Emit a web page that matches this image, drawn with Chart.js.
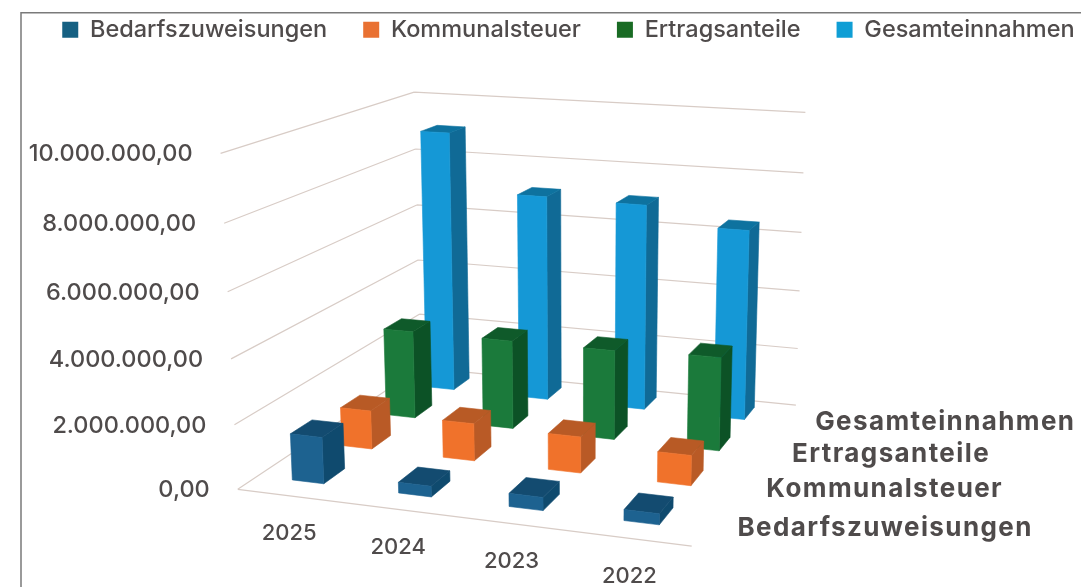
<!DOCTYPE html>
<html><head><meta charset="utf-8">
<script src="https://cdn.jsdelivr.net/npm/chart.js@4/dist/chart.umd.min.js"></script>
<style>html,body{margin:0;padding:0;background:#fff;overflow:hidden;width:1081px;height:587px}canvas{display:block}</style>
</head><body><canvas id="c" width="1400" height="587"></canvas>
<script>
const years = ['2025','2024','2023','2022'];
const seriesNames = ['Bedarfszuweisungen','Kommunalsteuer','Ertragsanteile','Gesamteinnahmen'];
const bedarf = [1450000,330000,400000,330000];
const kommunal = [1250000,1200000,1150000,950000];
const ertrag = [2950000,2950000,2950000,3050000];
const gesamt = [9000000,7050000,7000000,6400000];
const valueTicks = {min:0,max:10000000,step:2000000};
const faceColors = [
 {legend:'#156082',front:'#1d6290',side:'#0f4a6e',top:'#134b70'},
 {legend:'#E97132',front:'#f0722b',side:'#b95a26',top:'#b85a25'},
 {legend:'#196B24',front:'#1b7a3b',side:'#0c5226',top:'#0f5a2a'},
 {legend:'#0F9ED5',front:'#1598d6',side:'#106a96',top:'#0e729f'}
];
const TEXT='#4f4b4b', GRID='#d8ccc6', FONT='Inter';

// camera fitted to the visible corners of the plot box
const corners=[[0,0,0,238,487],[1,0,0,692,548],[0,1,0,420,370],[1,1,0,796,403],
               [0,0,1,220,154],[0,1,1,415,91],[1,1,1,805,113]];
function solveCamera(){
  const A=[],b=[];
  for(const [X,Y,Z,sx0,sy0] of corners){const sx=sx0/1000,sy=sy0/1000;
    A.push([X,Y,Z,1,0,0,0,0,-sx*X,-sx*Y,-sx*Z]);b.push(sx);
    A.push([0,0,0,0,X,Y,Z,1,-sy*X,-sy*Y,-sy*Z]);b.push(sy);}
  const n=11,M=[];
  for(let i=0;i<n;i++){M[i]=[];for(let j=0;j<n;j++){let s=0;for(let k=0;k<A.length;k++)s+=A[k][i]*A[k][j];M[i][j]=s;}
    let s=0;for(let k=0;k<A.length;k++)s+=A[k][i]*b[k];M[i][n]=s;}
  for(let i=0;i<n;i++){let p=i;for(let r=i+1;r<n;r++)if(Math.abs(M[r][i])>Math.abs(M[p][i]))p=r;
    [M[i],M[p]]=[M[p],M[i]];
    for(let r=0;r<n;r++)if(r!==i){const f=M[r][i]/M[i][i];for(let c=i;c<=n;c++)M[r][c]-=f*M[i][c];}}
  return M.map((r,i)=>r[n]/r[i]);
}
const cam=solveCamera();
function project(u,v,w){
  const d=cam[8]*u+cam[9]*v+cam[10]*w+1;
  return [1000*(cam[0]*u+cam[1]*v+cam[2]*w+cam[3])/d,1000*(cam[4]*u+cam[5]*v+cam[6]*w+cam[7])/d];
}
const normX=(s,p)=>(p-s.left)/(s.right-s.left);
const normY=(s,val)=>(s.bottom-s.getPixelForValue(val))/(s.bottom-s.top);

const BAR_U=0.075, BAR_V=0.105, SHIFT_U=-0.005, SHIFT_V=0.02;
function poly(ctx,pts,color){
  ctx.beginPath();pts.forEach((p,i)=>i?ctx.lineTo(p[0],p[1]):ctx.moveTo(p[0],p[1]));ctx.closePath();
  ctx.fillStyle=color;ctx.strokeStyle=color;ctx.lineWidth=0.6;ctx.fill();ctx.stroke();
}
class Bar3D extends Chart.BarController{
  draw(){
    const chart=this.chart,ctx=chart.ctx,xs=chart.scales.x,ys=chart.scales.y;
    const ds=this.getDataset(),n=chart.data.datasets.length,col=faceColors[this.index];
    const vc=(this.index+.5)/n+SHIFT_V;
    ctx.save();
    for(let i=ds.data.length-1;i>=0;i--){
      const uc=normX(xs,xs.getPixelForValue(i))+SHIFT_U,w=normY(ys,ds.data[i]);
      const u0=uc-BAR_U/2,u1=uc+BAR_U/2,v0=vc-BAR_V/2,v1=vc+BAR_V/2;
      poly(ctx,[project(u1,v0,0),project(u1,v1,0),project(u1,v1,w),project(u1,v0,w)],col.side);
      poly(ctx,[project(u0,v0,w),project(u1,v0,w),project(u1,v1,w),project(u0,v1,w)],col.top);
      poly(ctx,[project(u0,v0,0),project(u1,v0,0),project(u1,v0,w),project(u0,v0,w)],col.front);
    }
    ctx.restore();
  }
}
Bar3D.id='bar3d';
Bar3D.defaults=Chart.BarController.defaults;
Bar3D.overrides=Chart.BarController.overrides;
Chart.register(Bar3D);

const frame3d={
  id:'frame3d',
  afterLayout(chart){chart.legend.left=26.25;chart.legend.top=-18;},
  beforeDraw(chart){
    const ctx=chart.ctx;ctx.save();ctx.fillStyle='#fff';ctx.fillRect(0,0,chart.width,chart.height);
    ctx.strokeStyle='#7a7a7a';ctx.lineWidth=1.5;ctx.beginPath();ctx.moveTo(21,chart.height);ctx.lineTo(21,12.7);ctx.lineTo(chart.width,12.7);ctx.stroke();ctx.restore();
  },
  beforeDatasetsDraw(chart){
    const ctx=chart.ctx,ys=chart.scales.y,xs=chart.scales.x;ctx.save();
    ctx.strokeStyle=GRID;ctx.lineWidth=1.2;
    const seg=(a,b)=>{ctx.moveTo(a[0],a[1]);ctx.lineTo(b[0],b[1]);};
    ctx.beginPath();
    ys.ticks.forEach(t=>{const w=normY(ys,t.value);seg(project(0,0,w),project(0,1,w));seg(project(0,1,w),project(1,1,w));});
    seg(project(0,0,0),project(1,0,0));
    ctx.stroke();
    ctx.fillStyle=TEXT;ctx.textBaseline='middle';
    ctx.font='500 23.5px '+FONT;ctx.textAlign='right';
    ys.ticks.forEach(t=>{const p=project(0,0,normY(ys,t.value));ctx.fillText(t.label,p[0]-28,p[1]+1);});
    ctx.font='500 22px '+FONT;ctx.textAlign='center';
    years.forEach((y,i)=>{const p=project(normX(xs,xs.getPixelForValue(i)),0,0);ctx.fillText(y,p[0]-1.5,p[1]+37.5);});
    ctx.font='bold 26px '+FONT;ctx.textAlign='left';ctx.letterSpacing='1.4px';
    seriesNames.forEach((s,i)=>{const p=project(1,(i+.5)/seriesNames.length,0);ctx.fillText(s,p[0]+30,p[1]+3);});
    ctx.letterSpacing='0px';
    ctx.restore();
  }
};
const fmt=new Intl.NumberFormat('de-DE',{minimumFractionDigits:2,maximumFractionDigits:2});
const series=[bedarf,kommunal,ertrag,gesamt];
new Chart(document.getElementById('c'),{
  type:'bar3d',
  data:{labels:years,datasets:seriesNames.map((s,i)=>({label:s,data:series[i],backgroundColor:faceColors[i].legend,borderWidth:0,clip:false}))},
  options:{
    responsive:false,animation:false,
    layout:{padding:{top:0,left:0,right:0,bottom:0}},
    scales:{
      x:{type:'category',display:false,grid:{display:false}},
      y:{type:'linear',display:false,min:valueTicks.min,max:valueTicks.max,
         ticks:{stepSize:valueTicks.step,callback:v=>fmt.format(v)},grid:{display:false}}
    },
    plugins:{
      tooltip:{enabled:false},
      legend:{position:'top',align:'start',
        labels:{boxWidth:16,boxHeight:16,padding:36,color:TEXT,font:{family:FONT,size:23.5,weight:'500'}}}
    }
  },
  plugins:[frame3d]
});
</script></body></html>
